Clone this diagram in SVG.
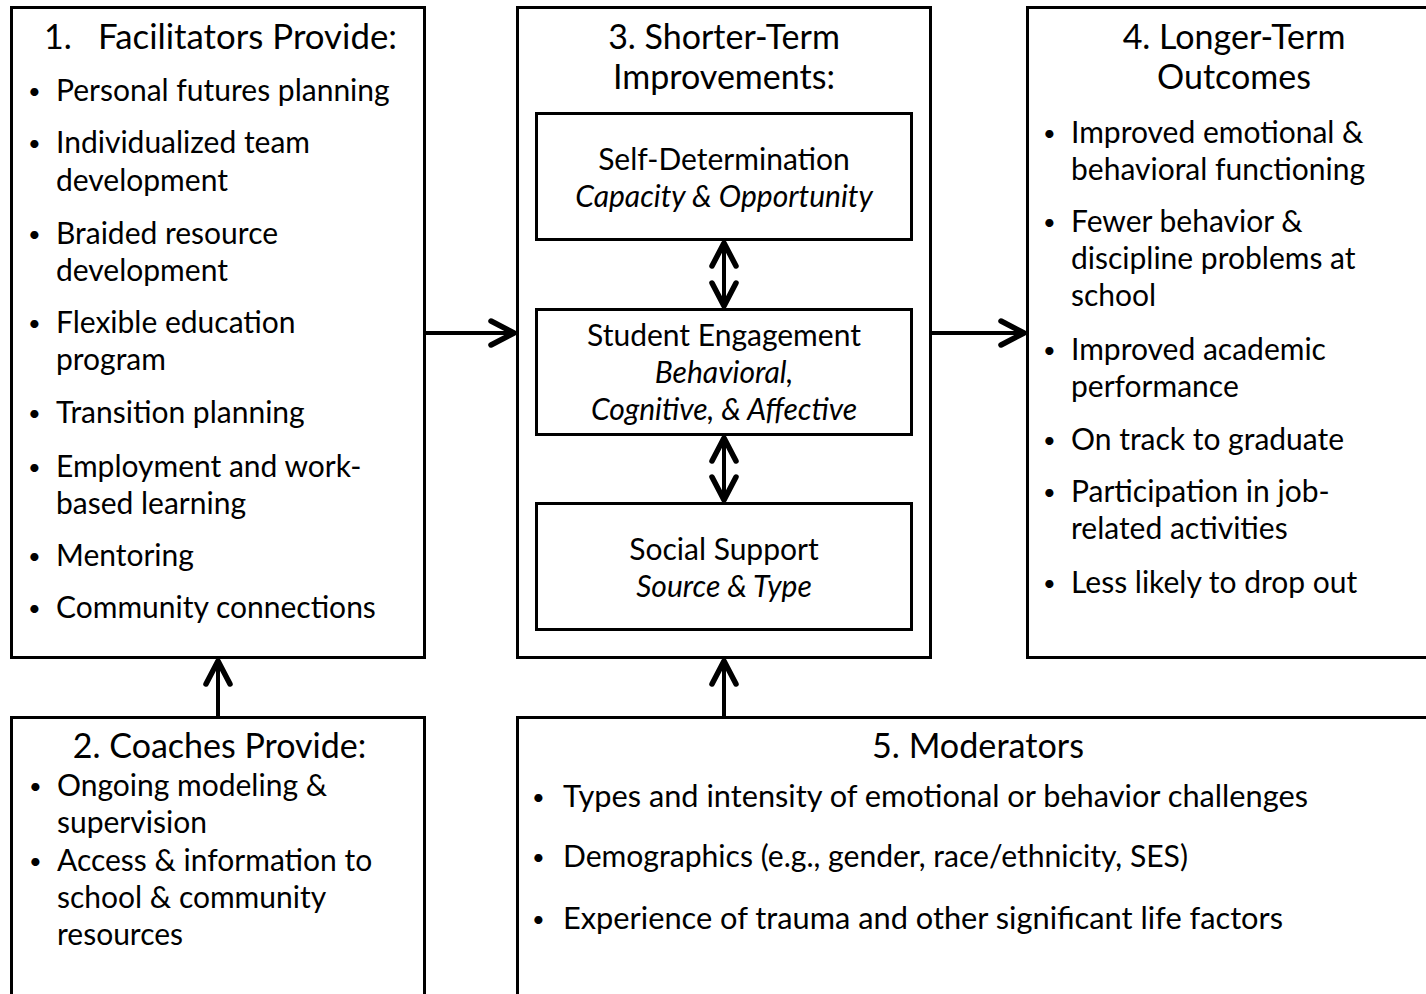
<svg xmlns="http://www.w3.org/2000/svg" width="1426" height="994" viewBox="0 0 1426 994">
<defs>
<style>
.box{fill:#fff;stroke:#000;stroke-width:3}
.t{font-family:Lato,"Open Sans","Liberation Sans",sans-serif;font-size:30px;fill:#000}
.h{font-family:Lato,"Open Sans","Liberation Sans",sans-serif;font-size:34px;fill:#000}
.b{font-size:22px}
.i{font-style:italic}
.c{text-anchor:middle}
.conn{stroke:#000;stroke-width:4;fill:none}
</style>
<marker id="ah" viewBox="0 0 32 32" markerWidth="32" markerHeight="32" markerUnits="userSpaceOnUse" refX="29" refY="16" orient="auto-start-reverse">
<path d="M5,4 L28,16 L5,28" fill="none" stroke="#000" stroke-width="5.5" stroke-linecap="round" stroke-linejoin="round"/>
</marker>
</defs>
<rect width="1426" height="994" fill="#fff"/>

<g id="node1">
<rect class="box" x="11.5" y="7.5" width="413" height="650"/>
<text class="h" x="44" y="49">1.</text>
<text class="h" x="98" y="49" textLength="299" lengthAdjust="spacingAndGlyphs">Facilitators Provide:</text>
<g class="t">
<text class="b" x="28" y="99">•</text><text x="56" y="101">Personal futures planning</text>
<text class="b" x="28" y="151">•</text><text x="56" y="153">Individualized team</text>
<text x="56" y="191">development</text>
<text class="b" x="28" y="242">•</text><text x="56" y="244">Braided resource</text>
<text x="56" y="281">development</text>
<text class="b" x="28" y="331">•</text><text x="56" y="333">Flexible education</text>
<text x="56" y="370">program</text>
<text class="b" x="28" y="421">•</text><text x="56" y="423">Transition planning</text>
<text class="b" x="28" y="475">•</text><text x="56" y="477">Employment and work-</text>
<text x="56" y="514">based learning</text>
<text class="b" x="28" y="564">•</text><text x="56" y="566">Mentoring</text>
<text class="b" x="28" y="616">•</text><text x="56" y="618">Community connections</text>
</g>
</g>

<g id="node3">
<rect class="box" x="517.5" y="7.5" width="413" height="650"/>
<text class="h c" x="724" y="49">3. Shorter-Term</text>
<text class="h c" x="724" y="89">Improvements:</text>
</g>

<g id="node3a">
<rect class="box" x="536.5" y="113.5" width="375" height="126"/>
<text class="t c" x="724" y="170">Self-Determination</text>
<text class="t c i" x="724" y="207">Capacity &amp; Opportunity</text>
</g>

<g id="node3b">
<rect class="box" x="536.5" y="309.5" width="375" height="125"/>
<text class="t c" x="724" y="346">Student Engagement</text>
<text class="t c i" x="724" y="383">Behavioral,</text>
<text class="t c i" x="724" y="420">Cognitive, &amp; Affective</text>
</g>

<g id="node3c">
<rect class="box" x="536.5" y="503.5" width="375" height="126"/>
<text class="t c" x="724" y="560">Social Support</text>
<text class="t c i" x="724" y="597">Source &amp; Type</text>
</g>

<g id="node4">
<rect class="box" x="1027.5" y="7.5" width="410" height="650"/>
<text class="h c" x="1234" y="49">4. Longer-Term</text>
<text class="h c" x="1234" y="89">Outcomes</text>
<g class="t">
<text class="b" x="1043" y="141">•</text><text x="1071" y="143">Improved emotional &amp;</text>
<text x="1071" y="180">behavioral functioning</text>
<text class="b" x="1043" y="230">•</text><text x="1071" y="232">Fewer behavior &amp;</text>
<text x="1071" y="269">discipline problems at</text>
<text x="1071" y="306">school</text>
<text class="b" x="1043" y="358">•</text><text x="1071" y="360">Improved academic</text>
<text x="1071" y="397">performance</text>
<text class="b" x="1043" y="448">•</text><text x="1071" y="450">On track to graduate</text>
<text class="b" x="1043" y="500">•</text><text x="1071" y="502">Participation in job-</text>
<text x="1071" y="539">related activities</text>
<text class="b" x="1043" y="591">•</text><text x="1071" y="593">Less likely to drop out</text>
</g>
</g>

<g id="node2">
<rect class="box" x="11.5" y="717.5" width="413" height="290"/>
<text class="h c" x="219.5" y="758">2. Coaches Provide:</text>
<g class="t">
<text class="b" x="29" y="794">•</text><text x="57" y="796">Ongoing modeling &amp;</text>
<text x="57" y="833">supervision</text>
<text class="b" x="29" y="869">•</text><text x="57" y="871">Access &amp; information to</text>
<text x="57" y="908">school &amp; community</text>
<text x="57" y="945">resources</text>
</g>
</g>

<g id="node5">
<rect class="box" x="517.5" y="717.5" width="920" height="290"/>
<text class="h c" x="978" y="758" textLength="212" lengthAdjust="spacingAndGlyphs">5. Moderators</text>
<g class="t">
<text class="b" x="532" y="805">•</text><text x="563" y="807" textLength="745" lengthAdjust="spacingAndGlyphs">Types and intensity of emotional or behavior challenges</text>
<text class="b" x="532" y="865">•</text><text x="563" y="867" textLength="625" lengthAdjust="spacingAndGlyphs">Demographics (e.g., gender, race/ethnicity, SES)</text>
<text class="b" x="532" y="927">•</text><text x="563" y="929" textLength="720" lengthAdjust="spacingAndGlyphs">Experience of trauma and other significant life factors</text>
</g>
</g>

<g id="connectors">
<line class="conn" x1="425" y1="333" x2="515" y2="333" marker-end="url(#ah)"/>
<line class="conn" x1="931" y1="333" x2="1025" y2="333" marker-end="url(#ah)"/>
<line class="conn" x1="218" y1="717" x2="218" y2="660" marker-end="url(#ah)"/>
<line class="conn" x1="724" y1="717" x2="724" y2="660" marker-end="url(#ah)"/>
<line class="conn" x1="724" y1="242" x2="724" y2="307" marker-start="url(#ah)" marker-end="url(#ah)"/>
<line class="conn" x1="724" y1="437" x2="724" y2="501" marker-start="url(#ah)" marker-end="url(#ah)"/>
</g>
</svg>
